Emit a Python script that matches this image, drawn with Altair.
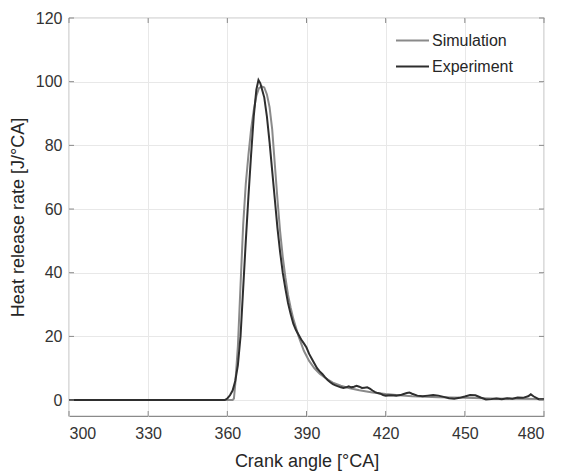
import altair as alt
import pandas as pd

# Simulation (smooth) heat release rate
sim_ca = [300, 362, 362.5, 363, 364, 365, 366, 367, 368, 369, 370, 371, 372, 373, 374, 375,
          376, 377, 378, 379, 380, 381, 382, 383, 384, 385, 387, 389, 391, 393, 395, 397,
          400, 403, 406, 410, 415, 420, 425, 430, 440, 450, 460, 470, 480]
sim_val = [0, 0, 0.5, 5, 17, 36, 55, 68, 77, 85, 91, 95.5, 98, 98.5, 98.2, 96,
           92, 85, 74, 63, 53, 45, 38.5, 33, 29, 25.5, 20, 15.5, 12.3, 10, 8.3, 7,
           5.5, 4.5, 3.8, 3.1, 2.4, 1.9, 1.5, 1.2, 0.9, 0.7, 0.5, 0.4, 0.3]

# Experiment (measured) heat release rate
exp_ca = [300, 359, 360, 361, 362, 363, 364, 365, 366, 367, 368, 369, 370, 371, 371.8, 372.5,
          373, 374, 375, 376, 377, 378, 379, 380, 381, 382, 383, 384, 385, 386, 387, 388,
          389, 390, 391, 392, 393, 394, 395, 396, 397, 398, 399, 400, 401, 402, 403, 404,
          405, 406, 407, 408, 409, 410, 411, 412, 413, 414, 415, 416, 417, 418, 419, 420,
          422, 424, 426, 428, 429, 430, 432, 434, 436, 438, 440, 442, 444, 446, 448, 450,
          452, 454, 456, 458, 460, 462, 464, 466, 468, 470, 472, 474, 475, 476, 478, 480]
exp_val = [0, 0, 0.5, 1.5, 3, 6, 11, 20, 35, 50, 64, 77, 89, 97.5, 100.5, 99.5,
           98, 95, 89, 81, 72, 63, 54, 46.5, 40, 35, 30.5, 27, 24, 22, 20.5, 19,
           17.8, 16.5, 14.5, 13, 11.5, 10, 9, 8.2, 7.2, 6.3, 5.6, 5, 4.6, 4.3, 4.0, 3.8,
           4.0, 4.3, 4.0, 4.2, 4.5, 4.2, 3.8, 3.9, 4.0, 3.6, 3.0, 2.5, 2.2, 2.0, 1.6, 1.4,
           1.5, 1.4, 1.7, 2.2, 2.4, 2.0, 1.4, 1.2, 1.4, 1.6, 1.4, 1.0, 0.6, 0.4, 0.7, 1.1,
           1.6, 1.5, 0.8, 0.2, 0.3, 0.5, 0.3, 0.6, 0.4, 0.8, 0.7, 1.2, 1.8, 1.2, 0.3, 0.3]

series_names = ["Simulation", "Experiment"]
series_colors = ["#8a8a8a", "#2e2e2e"]
x_ticks = [300, 330, 360, 390, 420, 450, 480]
y_ticks = [0, 20, 40, 60, 80, 100, 120]

W, H = 475, 398

df = pd.concat([
    pd.DataFrame({"ca": sim_ca, "hrr": sim_val, "series": "Simulation", "order": 0}),
    pd.DataFrame({"ca": exp_ca, "hrr": exp_val, "series": "Experiment", "order": 1}),
])

xs = alt.Scale(domain=[300, 480], nice=False, zero=False)
ys = alt.Scale(domain=[-5, 120], nice=False, zero=False)

lines = alt.Chart(df).mark_line(strokeWidth=2, clip=True).encode(
    x=alt.X("ca:Q", scale=xs,
            axis=alt.Axis(values=x_ticks, title="Crank angle [°CA]", grid=True, ticks=False,
                          domain=False, labelPadding=9, titlePadding=11)),
    y=alt.Y("hrr:Q", scale=ys,
            axis=alt.Axis(values=y_ticks, title="Heat release rate [J/°CA]", grid=True, ticks=False,
                          domain=False, labelPadding=7, titlePadding=8)),
    color=alt.Color("series:N", scale=alt.Scale(domain=series_names, range=series_colors),
                    legend=alt.Legend(orient="none", legendX=326, legendY=5, title=None,
                                      symbolType="stroke", symbolStrokeWidth=2, symbolSize=1089,
                                      labelFontSize=16, labelColor="#262626", rowPadding=-10,
                                      labelOffset=2, labelFont="Liberation Sans")),
    order="order:Q",
)

xt = pd.DataFrame({"v": x_ticks})
yt = pd.DataFrame({"v": y_ticks})
tick_color = "#8a8a8a"
xb = alt.Chart(xt).mark_rule(color=tick_color, strokeWidth=1).encode(
    x=alt.X("v:Q", scale=xs), y=alt.value(H), y2=alt.value(H - 5))
xtop = alt.Chart(xt).mark_rule(color=tick_color, strokeWidth=1).encode(
    x=alt.X("v:Q", scale=xs), y=alt.value(0), y2=alt.value(5))
yl = alt.Chart(yt).mark_rule(color=tick_color, strokeWidth=1).encode(
    y=alt.Y("v:Q", scale=ys), x=alt.value(0), x2=alt.value(5))
yr = alt.Chart(yt).mark_rule(color=tick_color, strokeWidth=1).encode(
    y=alt.Y("v:Q", scale=ys), x=alt.value(W), x2=alt.value(W - 5))

chart = alt.layer(lines, xb, xtop, yl, yr).properties(
    width=W, height=H,
    autosize=alt.AutoSizeParams(type="none"),
    padding={"left": 61, "top": 10, "right": 9, "bottom": 56},
).configure_view(stroke="#8a8a8a", strokeWidth=1.2).configure_axis(
    labelFont="Liberation Sans", titleFont="Liberation Sans",
    labelFontSize=16, titleFontSize=18, labelColor="#333333", titleColor="#262626",
    titleFontWeight="normal", gridColor="#e8e8e8", gridWidth=1,
)

chart.save("out.html", embed_options={"renderer": "svg", "actions": False})
